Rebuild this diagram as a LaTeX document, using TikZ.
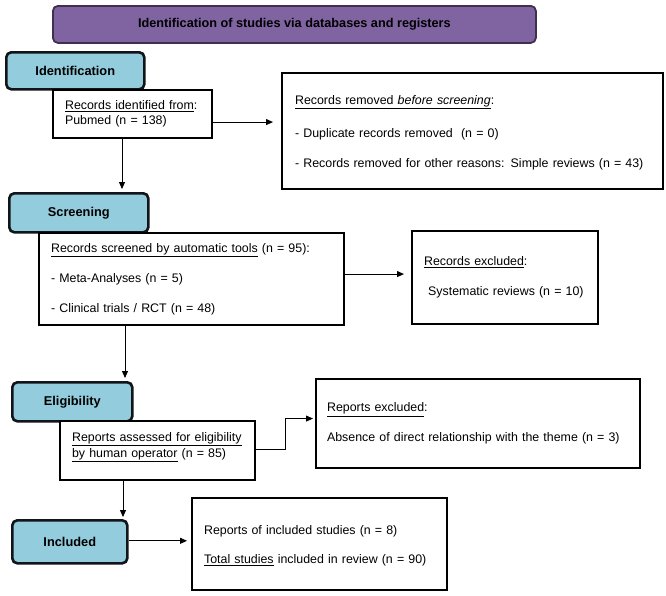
\documentclass[tikz,border=0pt]{standalone}
\usepackage{fontspec}
\setmainfont{Liberation Sans}
\usetikzlibrary{arrows.meta}
\definecolor{ttlfill}{HTML}{8064A2}
\definecolor{ttlline}{HTML}{3F3050}
\definecolor{phfill}{HTML}{93CDDD}
\definecolor{phline}{HTML}{111418}
\tikzset{
  ttlbox/.style={draw=ttlline, fill=ttlfill, line width=1.8pt, rounded corners=5pt, anchor=north west, inner sep=0pt, font=\fontsize{12.7}{15}\selectfont\bfseries},
  phbox/.style={draw=phline, fill=phfill, line width=2.6pt, rounded corners=5pt, anchor=north west, inner sep=0pt, font=\fontsize{12.8}{15}\selectfont\bfseries},
  infobox/.style={draw=black, fill=white, line width=2.1pt, anchor=north west, inner ysep=0pt, align=left, font=\fontsize{12.4}{15}\selectfont},
  arr/.style={line width=0.9pt, -{Triangle[length=7pt,width=6pt]}},
}
\begin{document}
\begin{tikzpicture}[x=1pt,y=-1pt]
\useasboundingbox (0,0) rectangle (666,595);
% title
\node[ttlbox, minimum width=483pt, minimum height=37pt] (title) at (52,5) {Identification of studies via databases and registers};
% phase boxes
\node[phbox, minimum width=138pt, minimum height=37pt] (ident) at (5,51) {Identification};
\node[phbox, minimum width=139pt, minimum height=39pt] (screen) at (8,192) {Screening};
\node[phbox, minimum width=120pt, minimum height=39pt] (elig) at (11,381) {Eligibility};
\node[phbox, minimum width=115pt, minimum height=43pt] (incl) at (11,519) {Included};
% info boxes
\node[infobox, minimum height=48pt, text width=135pt, inner xsep=12pt] (recid) at (52,89)
  {\underline{Records identified from}:\\Pubmed (n = 138)};
\node[infobox, minimum height=116pt, text width=355pt, inner xsep=13pt] (removed) at (281,72)
  {\mbox{}\\[-3pt]\underline{Records removed \textit{before screening}}:\\[18pt]- Duplicate records removed\ \ (n = 0)\\[15pt]- Records removed for other reasons: Simple reviews (n = 43)};
\node[infobox, minimum height=92pt, text width=281pt, inner xsep=12pt] (screened) at (38,232)
  {\underline{Records screened by automatic tools} (n = 95):\\[15pt]- Meta-Analyses (n = 5)\\[15pt]- Clinical trials / RCT (n = 48)};
\node[infobox, minimum height=93pt, text width=162pt, inner xsep=12pt] (excl) at (411,230)
  {\underline{Records excluded}:\\[15pt]\ Systematic reviews (n = 10)};
\node[infobox, minimum height=59pt, text width=171pt, inner xsep=12pt] (assess) at (59,420)
  {\underline{Reports assessed for eligibility}\\[1pt]\underline{by human operator} (n = 85)\\[-3pt]\mbox{}};
\node[infobox, minimum height=89pt, text width=302pt, inner xsep=11pt] (rexcl) at (315,378)
  {\underline{Reports excluded}:\\[15pt]Absence of direct relationship with the theme (n = 3)};
\node[infobox, minimum height=92pt, text width=231pt, inner xsep=12pt] (final) at (191,497)
  {\mbox{}\\[-3pt]Reports of included studies (n = 8)\\[14pt]\underline{Total studies} included in review (n = 90)};
% connectors
\draw[arr, shorten >=8pt] ([yshift=-8pt]recid.east) -- ([yshift=-8pt]recid.east -| removed.west);
\draw[arr, shorten >=3pt] ([xshift=70pt]recid.south west) -- ([xshift=70pt]recid.south west |- screen.north);
\draw[arr, shorten >=7pt] ([yshift=5pt]screened.east) -- ([yshift=5pt]screened.east -| excl.west);
\draw[arr, shorten >=3pt] ([xshift=87pt]screened.south west) -- ([xshift=87pt]screened.south west |- elig.north);
\draw[arr, shorten >=2pt] ([yshift=1pt]assess.east) -- ++(29pt,0) |- ([yshift=5pt]rexcl.west);
\draw[arr, shorten >=2pt] ([xshift=64pt]assess.south west) -- ([xshift=64pt]assess.south west |- incl.north);
\draw[arr, shorten >=4pt] ([yshift=1pt]incl.east) -- ([yshift=1pt]incl.east -| final.west);
\end{tikzpicture}
\end{document}
